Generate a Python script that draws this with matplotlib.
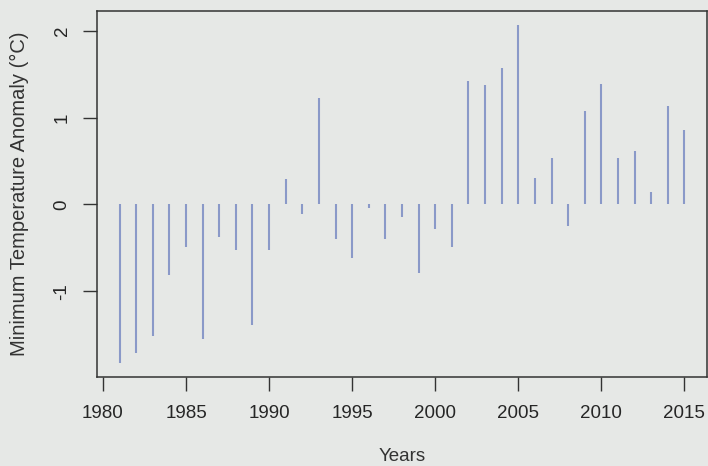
import matplotlib.pyplot as plt

# Minimum temperature anomaly per year
years = list(range(1981, 2016))
anomaly = [
    -1.83, -1.71, -1.51, -0.81, -0.49, -1.55, -0.38, -0.53, -1.39, -0.53,
    0.29, -0.11, 1.23, -0.40, -0.62, -0.04, -0.40, -0.14, -0.79, -0.28,
    -0.49, 1.42, 1.37, 1.57, 2.07, 0.30, 0.53, -0.25, 1.08, 1.39,
    0.54, 0.62, 0.14, 1.13, 0.86,
]
xticks = [1980, 1985, 1990, 1995, 2000, 2005, 2010, 2015]
yticks = [-1, 0, 1, 2]

plt.rcParams['font.family'] = ['Liberation Sans', 'DejaVu Sans']

bg = '#e6e8e6'
fig = plt.figure(figsize=(7.08, 4.66), dpi=100)
fig.patch.set_facecolor(bg)
ax = fig.add_axes([97 / 708, 1 - 377 / 466, 610 / 708, 366 / 466])
ax.set_facecolor(bg)

# R-style type="h" plot: vertical lines from zero
ax.vlines(years, 0, anomaly, colors='#8a99c8', linewidth=1.5)

# R default axis extension of 4%
xr = years[-1] - years[0]
ax.set_xlim(years[0] - 0.04 * xr, years[-1] + 0.04 * xr)
yr = max(anomaly) - min(anomaly)
ax.set_ylim(min(anomaly) - 0.04 * yr, max(anomaly) + 0.04 * yr)

ax.set_xticks(xticks)
ax.set_yticks(yticks)
ax.set_yticklabels([str(v) for v in yticks], rotation=90, va='center')
ax.tick_params(axis='both', direction='out', length=10, width=1, color='#333333',
               labelsize=13.5, labelcolor='#262626')
ax.tick_params(axis='x', pad=10)
ax.tick_params(axis='y', pad=9)

for s in ax.spines.values():
    s.set_color('#333333')
    s.set_linewidth(1.1)

ax.set_xlabel('Years', fontsize=13.5, color='#333333', labelpad=19)
ax.set_ylabel('Minimum Temperature Anomaly (°C)', fontsize=14.5, color='#333333', labelpad=18)

fig.savefig('out.png', dpi=100, facecolor=bg)
